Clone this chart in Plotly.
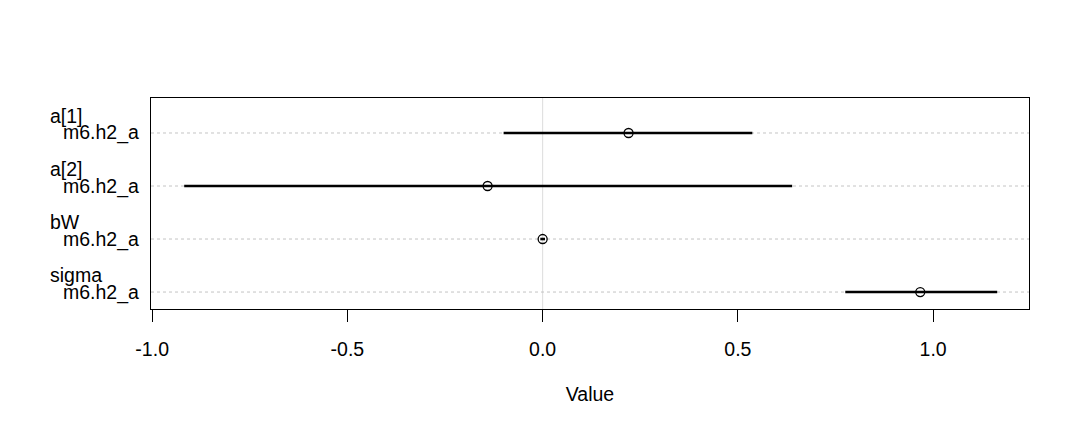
import plotly.graph_objects as go

params = ["a[1]", "a[2]", "bW", "sigma"]
model = "m6.h2_a"
means = [0.22, -0.141, 0.0, 0.967]
lows = [-0.10, -0.918, -0.006, 0.775]
highs = [0.537, 0.639, 0.006, 1.164]
xticks = [-1.0, -0.5, 0.0, 0.5, 1.0]
xticklabels = ["-1.0", "-0.5", "0.0", "0.5", "1.0"]

n = len(params)
ypos = [n - i for i in range(n)]  # top row = n

FONT = "Liberation Sans, Arial, sans-serif"
FS = 19.5
fig = go.Figure()

# segments
sx, sy = [], []
for lo, hi, y in zip(lows, highs, ypos):
    sx += [lo, hi, None]
    sy += [y, y, None]
fig.add_trace(go.Scatter(x=sx, y=sy, mode="lines",
                         line=dict(color="black", width=2.6),
                         showlegend=False, hoverinfo="skip"))
fig.add_trace(go.Scatter(x=means, y=ypos, mode="markers",
                         marker=dict(symbol="circle-open", size=9, color="black",
                                     line=dict(width=1.3, color="black")),
                         showlegend=False))

shapes = []
# vertical zero line
shapes.append(dict(type="line", xref="x", yref="paper", x0=0, x1=0, y0=0, y1=1,
                   line=dict(color="#dddddd", width=1), layer="below"))
for y in ypos:
    shapes.append(dict(type="line", xref="paper", yref="y", x0=0, x1=1, y0=y, y1=y,
                       line=dict(color="#c4c4c4", width=1, dash="dot"), layer="below"))

annotations = []
for p, y in zip(params, ypos):
    annotations.append(dict(x=-0.1173, y=y, xref="paper", yref="y", text=p,
                            showarrow=False, xanchor="left", yanchor="middle", yshift=17,
                            font=dict(family=FONT, size=FS, color="black")))
    annotations.append(dict(x=-0.0114, y=y, xref="paper", yref="y", text=model,
                            showarrow=False, xanchor="right", yanchor="middle",
                            font=dict(family=FONT, size=FS, color="black")))

fig.update_layout(
    width=1080, height=432,
    margin=dict(l=143, r=59, t=90, b=131, autoexpand=False),
    paper_bgcolor="white", plot_bgcolor="white",
    font=dict(family=FONT, size=FS, color="black"),
    shapes=shapes, annotations=annotations,
    xaxis=dict(range=[-1.003, 1.2455], tickvals=xticks, ticktext=xticklabels,
               showgrid=False, zeroline=False, showline=True, mirror=True,
               linecolor="black", linewidth=1, ticks="outside", ticklen=12,
               tickcolor="black", tickwidth=1, ticklabelstandoff=11,
               title=dict(text="Value", standoff=27, font=dict(size=FS))),
    yaxis=dict(range=[0.68, 4.66], showgrid=False, zeroline=False, showline=True,
               mirror=True, linecolor="black", linewidth=1, showticklabels=False,
               ticks=""),
)
fig.write_html("out.html")
